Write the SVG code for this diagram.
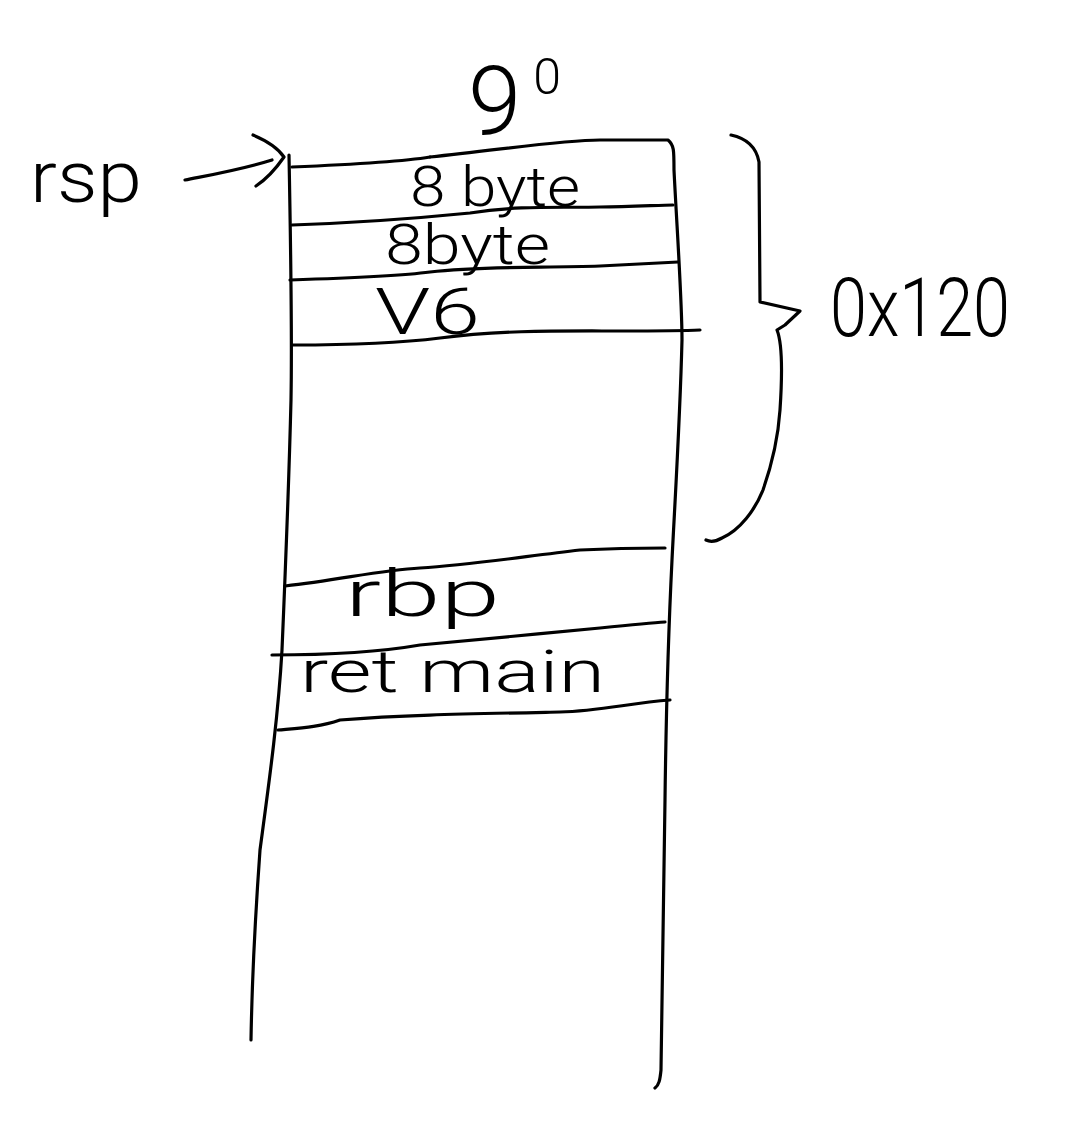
<svg xmlns="http://www.w3.org/2000/svg" width="1082" height="1123" viewBox="0 0 1082 1123">
<style>
.s{fill:none;stroke:#000;stroke-width:3.2;stroke-linecap:round;stroke-linejoin:round}
.t{font-family:Roboto,"Liberation Sans","DejaVu Sans",sans-serif;font-weight:300;fill:#000}
</style>
<rect width="1082" height="1123" fill="#fff"/>
<g id="stack">
<path class="s" d="M289,155 C291,260 292,345 291,400 C289,480 285,580 282,650 C278,720 268,790 260,850 C255,920 252,980 251,1040"/>
<path class="s" d="M430,157 C500,150 560,140 600,140 L668,140 C674,145 674,150 674,170 C677,230 682,300 682,340 C680,420 675,500 672,560 C668,640 666,720 665,800 C663,900 662,1000 661,1070 C660,1080 659,1085 655,1088"/>
<path class="s" d="M292,167 C340,165 400,162 430,157"/>
<path class="s" d="M292,225 C350,223 420,218 470,213 C520,205 560,208 600,207 C630,207 660,205 673,205"/>
<path class="s" d="M290,280 C350,278 400,276 430,272 C480,266 540,268 600,266 C640,264 660,263 678,262"/>
<path class="s" d="M293,345 C350,345 400,343 440,338 C500,330 560,331 620,331 C650,331 680,331 700,330"/>
<path class="s" d="M285,586 C340,580 380,570 420,568 C470,565 520,557 580,550 C620,548 645,548 665,548"/>
<path class="s" d="M272,655 C330,655 380,652 420,645 C470,640 540,634 600,628 C630,625 650,623 665,622"/>
<path class="s" d="M278,730 C300,728 320,727 340,720 C400,715 460,714 560,712 C600,711 630,703 670,700"/>
</g>
<g id="labels">
<text class="t" x="468" y="134" font-size="96">9<tspan font-size="50" dx="12" dy="-40">0</tspan></text>
<text class="t" x="410" y="206" font-size="56" textLength="170" lengthAdjust="spacingAndGlyphs">8 byte</text>
<text class="t" x="385" y="264" font-size="56" textLength="165" lengthAdjust="spacingAndGlyphs">8byte</text>
<text class="t" x="375" y="334" font-size="64" textLength="105" lengthAdjust="spacingAndGlyphs">V6</text>
<text class="t" x="345" y="616" font-size="64" textLength="155" lengthAdjust="spacingAndGlyphs">rbp</text>
<text class="t" x="300" y="692" font-size="60" textLength="305" lengthAdjust="spacingAndGlyphs">ret main</text>
</g>
<g id="rsp">
<text class="t" x="30" y="202" font-size="72" textLength="112" lengthAdjust="spacingAndGlyphs">rsp</text>
</g>
<g id="connectors">
<path class="s" d="M185,180 C210,175 240,170 272,160"/>
<path class="s" d="M253,135 C265,140 278,148 284,157 C275,170 265,180 256,186"/>
</g>
<g id="brace">
<path class="s" d="M731,135 C745,138 756,145 759,162 L760,302 L800,311 L785,325 L777,330 C783,345 782,380 780,410 C778,440 770,470 763,490 C755,510 740,530 722,538 C715,542 710,542 706,540"/>
<text class="t" x="830" y="336" font-size="82" textLength="180" lengthAdjust="spacingAndGlyphs">0x120</text>
</g>
</svg>
